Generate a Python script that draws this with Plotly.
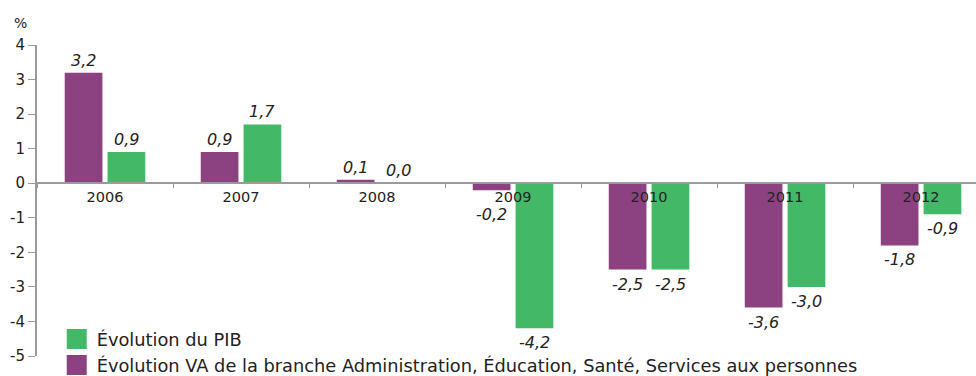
import plotly.graph_objects as go

# Annual change (%), 2006-2012
years = ["2006", "2007", "2008", "2009", "2010", "2011", "2012"]
va_branche = [3.2, 0.9, 0.1, -0.2, -2.5, -3.6, -1.8]
pib = [0.9, 1.7, 0.0, -4.2, -2.5, -3.0, -0.9]

y_ticks = [4, 3, 2, 1, 0, -1, -2, -3, -4, -5]
y_ticktext = [str(v) for v in y_ticks]  # plain hyphen for negatives

name_pib = "Évolution du PIB"
name_va = "Évolution VA de la branche Administration, Éducation, Santé, Services aux personnes"

PURPLE = "#8C4280"
GREEN = "#43B968"
AXIS = "#9A9A9A"
TEXT = "#222222"
FONT = "DejaVu Sans"

BARGAP = 0.37
GROUPGAP = 0.12
# centre of each bar relative to its category, in category units
bar_off = (1 - BARGAP) / 4


def fr(v):
    return f"{v:.1f}".replace(".", ",")


fig = go.Figure()
fig.add_trace(go.Bar(x=years, y=va_branche, marker=dict(color=PURPLE, line=dict(width=0)),
                     showlegend=False, hoverinfo="x+y"))
fig.add_trace(go.Bar(x=years, y=pib, marker=dict(color=GREEN, line=dict(width=0)),
                     showlegend=False, hoverinfo="x+y"))

# Legend entries with large square swatches
for nm, col in [(name_pib, GREEN), (name_va, PURPLE)]:
    fig.add_trace(go.Scatter(
        x=[None], y=[None], mode="markers", name=nm,
        marker=dict(symbol="square", size=16, color=col, line=dict(color=col, width=4)),
    ))

# Value labels: above positive bars, below negative bars
# (short negative bars get pushed under the year label)
label_font = dict(family=FONT, size=16, color=TEXT, style="italic")
annotations = []
for series, off in [(va_branche, -bar_off), (pib, bar_off)]:
    for i, v in enumerate(series):
        if v >= 0:
            ya, ys = "bottom", 1
        else:
            ya, ys = "top", (-13 if v > -0.5 else -3)
        annotations.append(dict(
            x=i + off, y=v, xref="x", yref="y", text=fr(v), showarrow=False,
            xanchor="center", yanchor=ya, yshift=ys, font=label_font,
        ))

annotations.append(dict(
    text="%", xref="paper", yref="paper", x=-37 / 939, y=1.0,
    xanchor="left", yanchor="bottom", yshift=12, xshift=12,
    showarrow=False, font=dict(family=FONT, size=14, color=TEXT),
))

fig.update_layout(
    width=976, height=376,
    margin=dict(l=37, r=0, t=45, b=20, autoexpand=False),
    paper_bgcolor="white", plot_bgcolor="white",
    barmode="group", bargap=BARGAP, bargroupgap=GROUPGAP,
    font=dict(family=FONT, size=14, color=TEXT),
    showlegend=True,
    legend=dict(
        x=0.021, y=0.113, xanchor="left", yanchor="top",
        bgcolor="rgba(0,0,0,0)", font=dict(family=FONT, size=17.8, color=TEXT),
        itemsizing="trace",
    ),
    xaxis=dict(
        type="category", range=[-0.5, 6.404],
        anchor="free", position=5 / 9,
        showline=True, linecolor=AXIS, linewidth=2,
        ticks="outside", tickson="boundaries", ticklen=4, tickcolor=AXIS, tickwidth=1,
        showgrid=False, zeroline=False,
        tickfont=dict(family=FONT, size=14.5, color=TEXT),
    ),
    yaxis=dict(
        range=[-5, 4], tickvals=y_ticks, ticktext=y_ticktext,
        showline=True, linecolor=AXIS, linewidth=2,
        ticks="outside", ticklen=7, tickcolor=AXIS, tickwidth=1,
        showgrid=False, zeroline=False,
        tickfont=dict(family=FONT, size=15, color=TEXT),
    ),
    annotations=annotations,
)

fig.write_html("out.html")
